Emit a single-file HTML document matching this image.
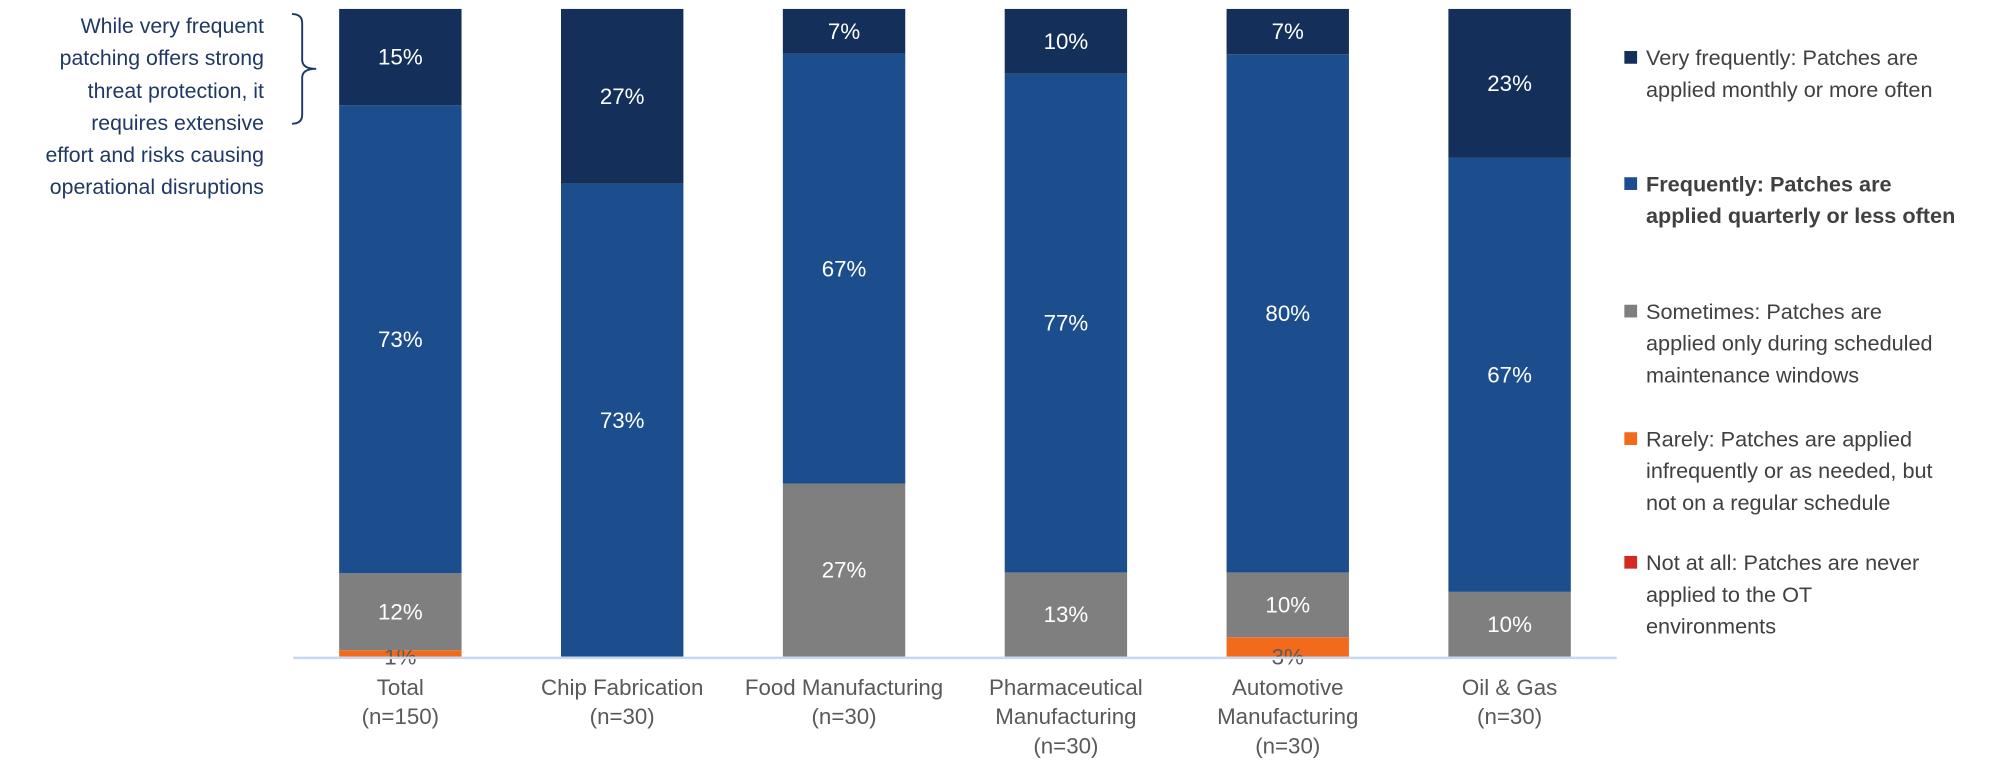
<!DOCTYPE html>
<html><head><meta charset="utf-8"><style>
body{margin:0;background:#fff;font-family:"Liberation Sans",sans-serif}
svg{display:block}
</style></head><body>
<svg id="chart" width="1999" height="775" font-family="Liberation Sans, sans-serif">
<g transform="scale(1.275)">
<g font-size="16.7" fill="#1f3864" text-anchor="end">
<text x="207" y="26">While very frequent</text>
<text x="207" y="51">patching offers strong</text>
<text x="207" y="77">threat protection, it</text>
<text x="207" y="102">requires extensive</text>
<text x="207" y="127">effort and risks causing</text>
<text x="207" y="152">operational disruptions</text>
</g>
<path d="M229,11 Q237,11 237,18 L237,47 Q237,54 248,54 Q237,54 237,61 L237,90 Q237,97 229,97" fill="none" stroke="#1f3864" stroke-width="1.5"/>
<g id="bars"></g>
<line x1="230" y1="516" x2="1268" y2="516" stroke="#c5d9f1" stroke-width="2"/>
<g id="xlabels" font-size="17.5" fill="#595959" text-anchor="middle"></g>
<g id="legend" font-size="17" fill="#404040"></g>
</g>
</svg>
<script>
const categories=[["Total","(n=150)"],["Chip Fabrication","(n=30)"],["Food Manufacturing","(n=30)"],["Pharmaceutical","Manufacturing","(n=30)"],["Automotive","Manufacturing","(n=30)"],["Oil & Gas","(n=30)"]];
const veryFrequently=[15,27,7,10,7,23];
const frequently=[73,73,67,77,80,67];
const sometimes=[12,0,27,13,10,10];
const rarely=[1,0,0,0,3,0];
const notAtAll=[0,0,0,0,0,0];
const seriesNames=[["Very frequently: Patches are","applied monthly or more often"],["Frequently: Patches are","applied quarterly or less often"],["Sometimes: Patches are","applied only during scheduled","maintenance windows"],["Rarely: Patches are applied","infrequently or as needed, but","not on a regular schedule"],["Not at all: Patches are never","applied to the OT","environments"]];
const NS="http://www.w3.org/2000/svg";
const colors=["#d42a1f","#f26b1d","#7f7f7f","#1c4e8e","#14305a"];
const textColors=["#404040","#595959","#fff","#fff","#fff"];
const base=515,top0=7,x0=266,step=174,bw=96;
function xPos(i){return x0+i*step;}
function yScale(frac){return base-frac*(base-top0);}
const bars=document.getElementById('bars');
const stackOrder=[notAtAll,rarely,sometimes,frequently,veryFrequently];
const nameOrder=['not-at-all','rarely','sometimes','frequently','very-frequently'];
categories.forEach((c,i)=>{
  const tot=stackOrder.reduce((s,a)=>s+a[i],0);
  let cum=0;
  stackOrder.forEach((arr,k)=>{
    const v=arr[i]; if(!v) return;
    const y1=yScale(cum/tot), y2=yScale((cum+v)/tot); cum+=v;
    const r=document.createElementNS(NS,'rect');
    r.setAttribute('x',xPos(i));r.setAttribute('width',bw);
    r.setAttribute('y',y2);r.setAttribute('height',y1-y2);r.setAttribute('fill',colors[k]);
    
    
    bars.appendChild(r);
    const t=document.createElementNS(NS,'text');
    t.setAttribute('x',xPos(i)+bw/2);
    const h=y1-y2;
    t.setAttribute('y',h<20?y1+6:(y1+y2)/2+6);
    t.setAttribute('text-anchor','middle');t.setAttribute('font-size','17.5');
    t.setAttribute('fill',h<20?textColors[k]:'#fff');
    t.textContent=v+'%';
    
    
    bars.appendChild(t);
  });
  const xl=document.getElementById('xlabels');
  c.forEach((line,j)=>{
    const t=document.createElementNS(NS,'text');
    t.setAttribute('x',xPos(i)+bw/2);t.setAttribute('y',545+j*23);
    t.textContent=line;
    
    
    xl.appendChild(t);
  });
});
const lg=document.getElementById('legend');
const legY=[51,150,250,350,447];
const legColors=["#14305a","#1c4e8e","#7f7f7f","#f26b1d","#d42a1f"];
seriesNames.forEach((lines,k)=>{
  const g=document.createElementNS(NS,'g');
  
  
  const r=document.createElementNS(NS,'rect');
  r.setAttribute('x',1274);r.setAttribute('y',legY[k]-11);r.setAttribute('width',10);r.setAttribute('height',10);r.setAttribute('fill',legColors[k]);
  g.appendChild(r);
  lines.forEach((ln,j)=>{
    const t=document.createElementNS(NS,'text');
    t.setAttribute('x',1291);t.setAttribute('y',legY[k]+j*25);
    if(k===1)t.setAttribute('font-weight','bold');
    t.textContent=ln;g.appendChild(t);
  });
  lg.appendChild(g);
});
</script>
</body></html>
